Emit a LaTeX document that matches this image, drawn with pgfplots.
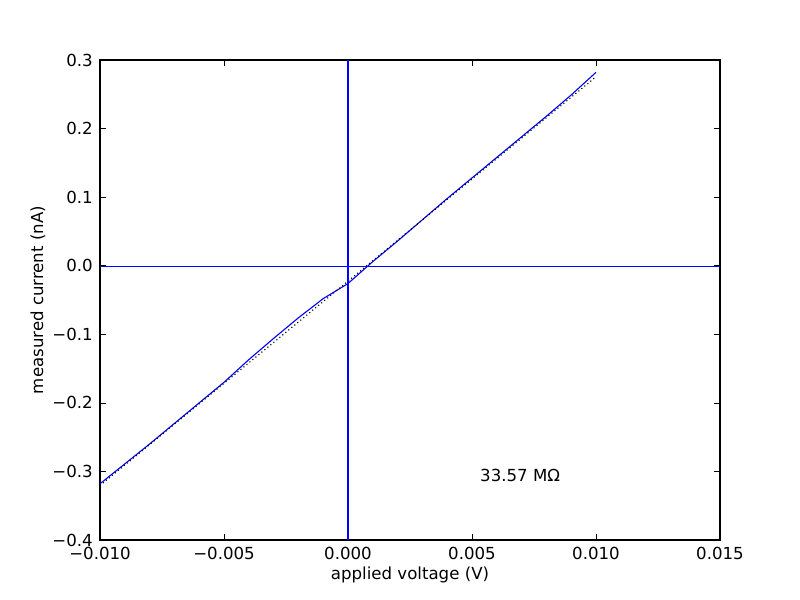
\documentclass[border=0pt]{standalone}
\usepackage{pgfplots}
\pgfplotsset{compat=1.18}
\usepackage{fontspec}
\setmainfont{DejaVu Sans}
\begin{document}
\fontsize{12pt}{14pt}\selectfont
\begin{tikzpicture}
\path[use as bounding box] (0,0) rectangle (8in,6in);
\begin{axis}[
  at={(1in,0.6in)}, anchor=south west,
  scale only axis, width=6.2in, height=4.8in,
  xmin=-0.010, xmax=0.015, ymin=-0.4, ymax=0.3,
  xtick={-0.010,-0.005,0,0.005,0.010,0.015},
  xticklabels={−0.010,−0.005,0.000,0.005,0.010,0.015},
  ytick={-0.4,-0.3,-0.2,-0.1,0,0.1,0.2,0.3},
  yticklabels={−0.4,−0.3,−0.2,−0.1,0.0,0.1,0.2,0.3},
  scaled x ticks=false, scaled y ticks=false,
  tick align=inside, major tick length=4pt,
  tick style={black, line width=0.5pt},
  axis line style={black, line width=0.9pt},
  xticklabel style={yshift=-1pt},
  yticklabel style={xshift=-1pt},
  xlabel={applied voltage (V)},
  ylabel={measured current (nA)},
  xlabel style={yshift=3pt},
  ylabel style={yshift=-3pt},
  clip=true,
]
\addplot[blue, line width=0.8pt] coordinates {
(-0.010,-0.318) (-0.009,-0.289) (-0.008,-0.260) (-0.007,-0.230) (-0.006,-0.200)
(-0.005,-0.170) (-0.004,-0.137) (-0.003,-0.106) (-0.002,-0.076) (-0.001,-0.048)
(0.000,-0.026) (0.001,0.006) (0.002,0.036) (0.003,0.067) (0.004,0.098)
(0.005,0.128) (0.006,0.158) (0.007,0.188) (0.008,0.218) (0.009,0.249) (0.010,0.282)
};
\addplot[black, dotted, line width=0.8pt] coordinates {
(-0.010,-0.3205) (0.010,0.2755)
};
\addplot[blue, line width=0.8pt] coordinates {(0,-0.4) (0,0.3)};
\addplot[blue, line width=0.8pt] coordinates {(-0.010,-0.001) (0.015,-0.001)};
\node[anchor=base west, inner sep=0pt] at (axis cs:0.00532,-0.314) {33.57 MΩ};
\end{axis}
\end{tikzpicture}
\end{document}
